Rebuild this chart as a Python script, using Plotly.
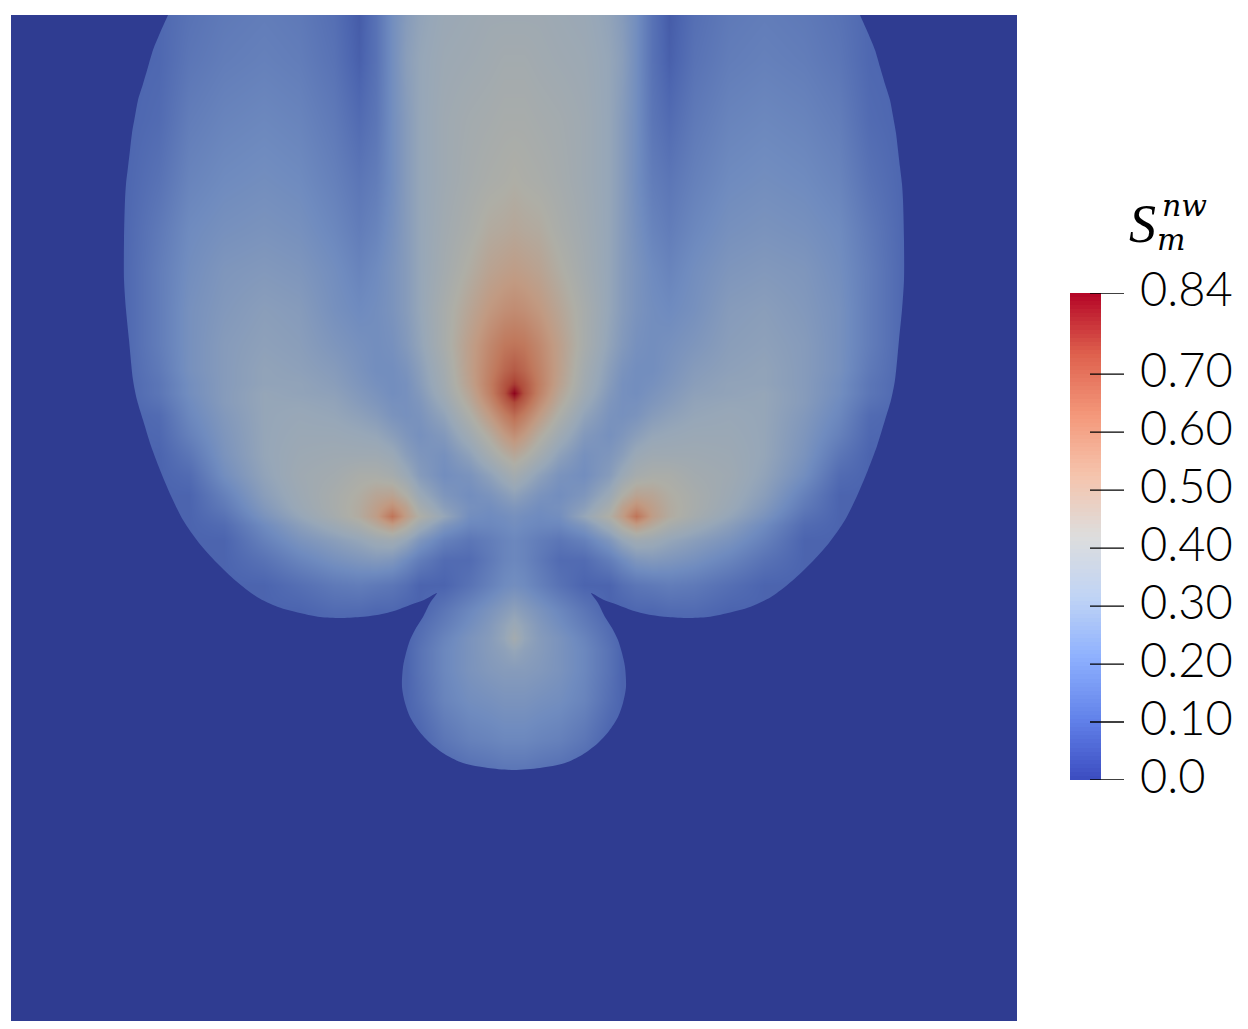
import plotly.graph_objects as go

W, H = 1248, 1029
CX = 514

# distance from the symmetry axis of each grid column, in image units
col_dx = [0, 10, 25, 45, 70, 95, 108, 122, 138, 155, 180, 215, 250, 290, 325, 355, 395, 503]
# height of each grid row
row_y = [15, 60, 120, 180, 230, 270, 310, 345, 370, 384, 393, 402, 415, 435, 455, 475, 495, 507,
         516, 525, 540, 560, 585, 610, 625, 638, 650, 670, 700, 740, 775, 1021]
# S_m^nw: centre column first, going outwards (the field is mirror symmetric)
half_values = [
    [.35, .35, .35, .34, .33, .30, .27, .22, .14, .08, .13, .16, .17, .16, .14, .11, .10, .10],
    [.37, .37, .36, .35, .34, .31, .28, .22, .14, .09, .14, .17, .18, .17, .15, .11, .10, .10],
    [.39, .39, .38, .37, .35, .31, .27, .22, .15, .12, .16, .19, .20, .19, .17, .12, .10, .10],
    [.42, .41, .40, .38, .35, .31, .27, .22, .17, .15, .18, .21, .22, .21, .19, .14, .10, .10],
    [.46, .45, .44, .40, .36, .31, .27, .23, .19, .17, .20, .23, .24, .23, .21, .16, .10, .10],
    [.51, .50, .48, .43, .37, .31, .27, .24, .21, .19, .22, .25, .26, .25, .22, .17, .10, .10],
    [.57, .56, .53, .47, .39, .31, .27, .24, .22, .21, .23, .27, .28, .26, .23, .17, .10, .10],
    [.64, .63, .58, .50, .39, .30, .26, .23, .22, .23, .25, .28, .29, .27, .23, .17, .10, .10],
    [.70, .67, .60, .50, .37, .28, .24, .22, .22, .24, .27, .29, .30, .27, .23, .16, .10, .10],
    [.76, .71, .61, .49, .36, .27, .23, .22, .23, .25, .28, .30, .30, .27, .22, .15, .10, .10],
    [.84, .72, .60, .47, .35, .26, .23, .22, .24, .26, .29, .30, .31, .27, .22, .15, .10, .10],
    [.74, .68, .57, .45, .33, .25, .23, .23, .25, .27, .30, .31, .31, .27, .21, .14, .10, .10],
    [.66, .61, .52, .41, .30, .24, .23, .24, .27, .29, .31, .32, .31, .26, .20, .12, .10, .10],
    [.56, .52, .44, .35, .26, .23, .25, .28, .31, .32, .33, .33, .31, .25, .18, .11, .10, .10],
    [.46, .43, .37, .29, .23, .25, .28, .33, .35, .35, .35, .34, .31, .24, .15, .10, .10, .10],
    [.37, .34, .29, .24, .22, .27, .33, .38, .40, .40, .37, .35, .30, .22, .12, .10, .10, .10],
    [.29, .27, .24, .22, .25, .33, .42, .48, .47, .43, .39, .34, .28, .18, .10, .10, .10, .10],
    [.25, .24, .22, .23, .28, .38, .49, .56, .50, .44, .39, .33, .26, .16, .10, .10, .10, .10],
    [.23, .22, .21, .22, .31, .42, .51, .64, .51, .44, .38, .31, .24, .14, .10, .10, .10, .10],
    [.22, .21, .20, .20, .25, .35, .44, .51, .45, .39, .34, .28, .21, .12, .10, .10, .10, .10],
    [.20, .19, .17, .15, .18, .25, .31, .35, .34, .31, .28, .24, .18, .10, .10, .10, .10, .10],
    [.20, .19, .16, .12, .12, .17, .21, .25, .26, .25, .23, .19, .14, .10, .10, .10, .10, .10],
    [.22, .21, .18, .14, .10, .10, .13, .15, .16, .17, .16, .13, .10, .10, .10, .10, .10, .10],
    [.29, .27, .24, .20, .15, .10, .10, .11, .11, .12, .12, .10, .10, .10, .10, .10, .10, .10],
    [.33, .30, .26, .22, .17, .12, .10, .10, .10, .10, .10, .10, .10, .10, .10, .10, .10, .10],
    [.37, .31, .27, .24, .19, .13, .10, .10, .10, .10, .10, .10, .10, .10, .10, .10, .10, .10],
    [.31, .29, .27, .24, .20, .14, .10, .10, .10, .10, .10, .10, .10, .10, .10, .10, .10, .10],
    [.27, .27, .26, .24, .20, .14, .10, .10, .10, .10, .10, .10, .10, .10, .10, .10, .10, .10],
    [.24, .24, .23, .22, .19, .13, .10, .10, .10, .10, .10, .10, .10, .10, .10, .10, .10, .10],
    [.20, .20, .19, .18, .15, .10, .10, .10, .10, .10, .10, .10, .10, .10, .10, .10, .10, .10],
    [.14, .14, .13, .12, .10, .10, .10, .10, .10, .10, .10, .10, .10, .10, .10, .10, .10, .10],
    [.10, .10, .10, .10, .10, .10, .10, .10, .10, .10, .10, .10, .10, .10, .10, .10, .10, .10],
]

# left half of the plume's outer edge, above the top edge to the bottom of the drop
edge_x = [176, 168, 160, 153, 148, 143, 138, 135, 132, 130, 128, 126, 125, 124, 124, 126, 129, 133, 137,
          143, 151, 160, 171, 183, 199, 217, 236, 257, 278, 300, 320, 340, 360, 377, 394, 410, 424,
          437, 430, 423, 416, 410, 406, 403, 402, 405, 410, 419, 430, 446, 463, 488, 514]
edge_y = [-4, 15, 33, 50, 67, 84, 100, 116, 133, 150, 167, 184, 200, 240, 280, 310, 340, 380, 400,
          420, 446, 470, 496, 520, 543, 563, 581, 597, 607, 613, 617, 618, 617, 615, 611, 605, 600,
          593, 603, 617, 628, 640, 653, 667, 687, 703, 717, 731, 743, 755, 763, 768, 770]

tick_vals = [0.0, 0.10, 0.20, 0.30, 0.40, 0.50, 0.60, 0.70, 0.84]
tick_text = ["0.0", "0.10", "0.20", "0.30", "0.40", "0.50", "0.60", "0.70", "0.84"]

cool_warm = [(59, 76, 192), (98, 130, 234), (141, 176, 254), (192, 212, 245), (221, 221, 221),
             (245, 196, 173), (244, 152, 122), (222, 96, 77), (180, 4, 38)]
shade = (0.79, 0.79, 0.755)
BACKGROUND = "rgb(47,60,145)"
VMAX = 0.84
BANDS = 120


def scale(factor=(1, 1, 1)):
    n = len(cool_warm) - 1
    return [[i / n, "rgb(%d,%d,%d)" % tuple(c * f for c, f in zip(col, factor))]
            for i, col in enumerate(cool_warm)]


def px_x(a, b):
    return [a / W, b / W]


def px_y(top, bottom):
    return [1 - bottom / H, 1 - top / H]


x_nodes = [CX - d for d in reversed(col_dx)] + [CX + d for d in col_dx[1:]]
z_rows = [list(reversed(r)) + r[1:] for r in half_values]

fig = go.Figure()
fig.add_trace(go.Heatmap(x=x_nodes, y=row_y, z=z_rows, zmin=0, zmax=VMAX, zsmooth="best",
                         colorscale=scale(shade), showscale=False, hoverinfo="skip",
                         xaxis="x", yaxis="y"))

# everything outside the plume outline is the flat zero-saturation colour
mask_x = [-400] + edge_x + [2 * CX - v for v in reversed(edge_x[:-1])] + [1430, 1430, -400]
mask_y = [-4] + edge_y + list(reversed(edge_y[:-1])) + [-4, 1400, 1400]
fig.add_trace(go.Scatter(x=mask_x, y=mask_y, mode="lines", fill="toself", fillcolor=BACKGROUND,
                         line=dict(width=0, shape="spline", smoothing=0.8), hoverinfo="skip",
                         showlegend=False, xaxis="x", yaxis="y"))

# colour legend
bar_edges = [VMAX * i / BANDS for i in range(BANDS + 1)]
bar_mids = [[(a + b) / 2] for a, b in zip(bar_edges, bar_edges[1:])]
fig.add_trace(go.Heatmap(x=[0, 31], y=bar_edges, z=bar_mids, zmin=0, zmax=VMAX,
                         colorscale=scale(), showscale=False, hoverinfo="skip",
                         xaxis="x2", yaxis="y2"))
tick_x, tick_y = [], []
for v in tick_vals:
    tick_x += [20, 54, None]
    tick_y += [v, v, None]
fig.add_trace(go.Scatter(x=tick_x, y=tick_y, mode="lines", line=dict(color="black", width=1.3),
                         cliponaxis=False, hoverinfo="skip", showlegend=False,
                         xaxis="x2", yaxis="y2"))

hidden = dict(showgrid=False, zeroline=False, showticklabels=False, ticks="", showline=False)
annotations = [
    dict(text=t, x=1138 / W, xref="paper", y=v, yref="y2", xanchor="left", yanchor="middle",
         yshift=5, showarrow=False, font=dict(family="Lato", size=47, color="black", weight=300))
    for v, t in zip(tick_vals, tick_text)
]
for text, px, py, family, size in [("S", 1142, 224, "Liberation Serif", 54),
                                   ("nw", 1184, 206, "DejaVu Serif", 30),
                                   ("m", 1171, 239, "DejaVu Serif", 30)]:
    annotations.append(dict(text="<i>%s</i>" % text, x=px / W, xref="paper", y=1 - py / H, yref="paper",
                            xanchor="center", yanchor="middle", showarrow=False,
                            font=dict(family=family, size=size, color="black")))

fig.update_layout(
    width=W, height=H, margin=dict(l=0, r=0, t=0, b=0), autosize=False,
    paper_bgcolor="white", plot_bgcolor="white", showlegend=False,
    xaxis=dict(domain=px_x(11, 1017), range=[11, 1017], **hidden),
    yaxis=dict(domain=px_y(15, 1021), range=[1021, 15], **hidden),
    xaxis2=dict(domain=px_x(1070, 1124), range=[0, 54], anchor="y2", **hidden),
    yaxis2=dict(domain=px_y(293, 780), range=[0, VMAX], anchor="x2", **hidden),
    annotations=annotations,
)

fig.write_html("out.html", config=dict(displayModeBar=False),
               post_script="document.body.style.margin='0';")
